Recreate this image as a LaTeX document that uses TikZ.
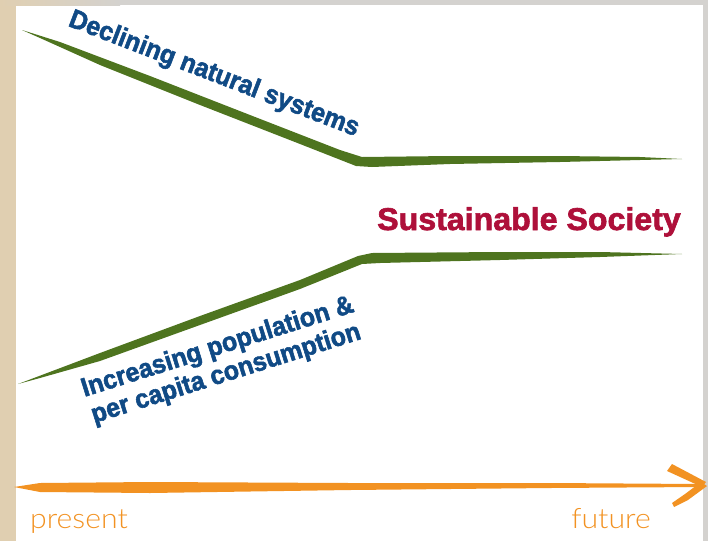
\documentclass[tikz,border=0pt]{standalone}
\usepackage{fontspec}
\newfontfamily\labelfont{Liberation Sans}[FakeStretch=0.94,BoldFeatures={FakeBold=2}]
\newfontfamily\goalfont{Liberation Sans}[FakeStretch=1.02,BoldFeatures={FakeBold=2}]
\IfFontExistsTF{Lato Light}
	{\newfontfamily\timefont{Lato Light}[FakeStretch=1.08]}
	{\newfontfamily\timefont{Lato}[FakeStretch=1.08]}
\definecolor{BrushGreen}{RGB}{78,116,31}
\definecolor{LabelBlue}{RGB}{16,74,133}
\definecolor{GoalRed}{RGB}{174,16,58}
\definecolor{TimeOrange}{RGB}{242,146,34}
\definecolor{FrameBeige}{RGB}{224,207,177}
\definecolor{FrameGray}{RGB}{212,210,207}
\begin{document}
\begin{tikzpicture}[x=1pt,y=-1pt,
	brush/.style={fill=BrushGreen},
	timeline/.style={fill=TimeOrange},
	trendlabel/.style={text=LabelBlue,font=\labelfont\bfseries\fontsize{26.5}{28}\selectfont,inner sep=0pt},
	timelabel/.style={text=TimeOrange,font=\timefont\fontsize{28}{32}\selectfont,inner sep=0pt,anchor=base}]
	\useasboundingbox (0,0) rectangle (708,541);
	% frame
	\fill[FrameBeige] (0,0) rectangle (16,541);
	\shade[left color=FrameBeige,right color=FrameGray] (0,0) rectangle (120,5);
	\fill[FrameGray] (120,0) rectangle (708,5);
	\fill[FrameGray] (703,0) rectangle (708,541);

	% natural systems
	\fill[brush] (22,30) -- (60,42) -- (150,76) -- (250,115) -- (340,150) -- (362,157)
		-- (450,156) -- (560,156) -- (640,157) -- (682,159) -- (640,160) -- (560,162)
		-- (450,164) -- (372,167) -- (356,166) -- (300,144) -- (200,105) -- (100,65)
		-- (40,38) -- cycle;
	% population and consumption
	\fill[brush] (18,384) -- (100,353) -- (200,316) -- (300,280) -- (358,256) -- (372,253)
		-- (500,252) -- (600,252) -- (682,254) -- (600,257) -- (500,260) -- (380,263)
		-- (362,264) -- (300,289) -- (200,325) -- (100,361) -- (40,378) -- cycle;

	\node[trendlabel,rotate=-21,anchor=base] (Declining) at (211.5,81) {Declining natural systems};
	\node[trendlabel,rotate=17.5,align=center] (Increasing) at (222,361)
		{Increasing population \&\\per capita consumption};
	\node[text=GoalRed,font=\goalfont\bfseries\fontsize{31.5}{36}\selectfont,inner sep=0pt,anchor=base]
		(Sustainable) at (529,230) {Sustainable Society};

	% time axis
	\fill[timeline] (14,487) -- (40,483) -- (150,482) -- (350,483) -- (550,483) -- (700,484)
		-- (700,487) -- (550,488) -- (350,490) -- (150,493) -- (40,492) -- cycle;
	\fill[timeline] (667,471) -- (672,464) -- (706,482) -- (702,487) -- cycle;
	\fill[timeline] (701,482) -- (707,486) -- (688,500) -- (674,507) -- (672,503) -- (685,494) -- cycle;

	\node[timelabel] (Present) at (79,528) {present};
	\node[timelabel] (Future) at (611,528) {future};
\end{tikzpicture}
\end{document}
